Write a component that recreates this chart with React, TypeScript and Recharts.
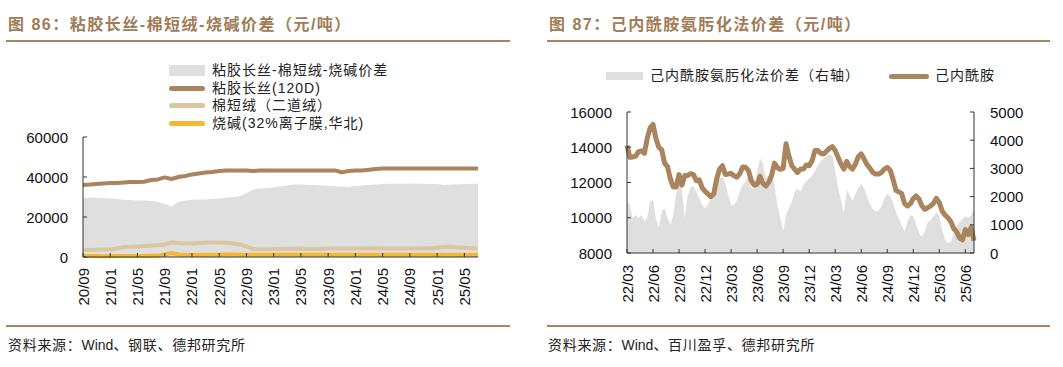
import React from "react";
import { ComposedChart, Line, Area, XAxis, YAxis, Legend } from "recharts";

const LATIN = '"Liberation Sans", Arial, sans-serif';
const MIXED = '"Liberation Sans", "Noto Sans CJK SC", sans-serif';

const TITLE = "#A07C58";
const RULE = "#A98566";
const BROWN = "#A9845C";
const BEIGE = "#D9C7A1";
const ORANGE = "#F5B731";
const GRAY = "#DFDFDF";
const AXIS = "#333333";

// month keys like "20/09" (or "22/03#1" when several points per month)
function monthKeys(y0: number, m0: number, count: number, perMonth: number): string[] {
  const out: string[] = [];
  for (let i = 0; i < count; i++) {
    const mi = m0 - 1 + Math.floor(i / perMonth);
    const yy = String((y0 + Math.floor(mi / 12)) % 100).padStart(2, "0");
    const mm = String((mi % 12) + 1).padStart(2, "0");
    out.push(perMonth > 1 ? `${yy}/${mm}#${i % perMonth}` : `${yy}/${mm}`);
  }
  return out;
}

// ---- left chart: monthly, 20/09 .. 25/07 ----
const leftMonths = monthKeys(2020, 9, 59, 1);
const leftTicks = [0, 20000, 40000, 60000];
const leftNames = ["粘胶长丝-棉短绒-烧碱价差", "粘胶长丝(120D)", "棉短绒（二道绒）", "烧碱(32%离子膜,华北)"];

const viscose = [
  36000, 36200, 36500, 36800, 37000, 37000, 37300, 37500, 37500, 37600,
  38500, 38800, 39800, 39000, 40000, 40500, 41300, 41800, 42300, 42500,
  43000, 43200, 43200, 43200, 43200, 43000, 43200, 43200, 43300, 43300,
  43300, 43300, 43300, 43300, 43300, 43300, 43300, 43300, 42300, 43000,
  43200, 43300, 43600, 44000, 44300, 44300, 44300, 44300, 44300, 44300,
  44300, 44300, 44300, 44300, 44300, 44300, 44300, 44300, 44300,
];
const linter = [
  3500, 3500, 3600, 3700, 3700, 4200, 5000, 5100, 5300, 5500,
  5700, 5900, 6300, 7400, 7000, 6700, 6700, 7000, 7200, 7300,
  7200, 7100, 6700, 6300, 5200, 4000, 3900, 3900, 4000, 4000,
  4100, 4100, 4200, 4000, 4000, 4100, 4200, 4200, 4300, 4300,
  4300, 4300, 4400, 4400, 4300, 4300, 4300, 4200, 4200, 4300,
  4400, 4400, 4600, 5000, 5100, 4800, 4600, 4400, 4200,
];
const caustic = [
  500, 500, 450, 400, 350, 450, 500, 500, 500, 550,
  600, 700, 1300, 2000, 1300, 1100, 1000, 1000, 1100, 1100,
  1150, 1200, 1200, 1150, 1100, 1100, 1100, 1100, 1100, 1100,
  1100, 1100, 1100, 1100, 1100, 1100, 1100, 1100, 1100, 1100,
  1100, 1100, 1100, 1100, 1100, 1100, 1100, 1100, 1100, 1100,
  1100, 1100, 1100, 1100, 1100, 1100, 1100, 1100, 1100,
];
const leftSpread = [
  29500, 29700, 29600, 29500, 29300, 29000, 28600, 28500, 28300, 28200,
  28000, 27600, 26500, 25200, 27500, 28300, 28600, 28700, 28800, 29000,
  29200, 29600, 30000, 30400, 32000, 33800, 34200, 34500, 34800, 35200,
  35800, 36200, 36200, 36000, 36000, 35800, 35600, 35300, 35200, 35000,
  35400, 35700, 36000, 36300, 36500, 36600, 36600, 36600, 36700, 36600,
  36600, 36500, 36500, 36000, 36200, 36400, 36500, 36600, 36600,
];

// ---- right chart: three points a month, 22/03 .. 25/07 ----
const rightDates = monthKeys(2022, 3, 121, 3);
const priceTicks = [8000, 10000, 12000, 14000, 16000];
const spreadTicks = [0, 1000, 2000, 3000, 4000, 5000];
const rightNames = ["己内酰胺氨肟化法价差（右轴）", "己内酰胺"];

const caprolactam = [
  14100, 13430, 13450, 13500, 13750, 13800, 13650, 14500, 15100, 15300,
  14500, 14000, 13850, 13100, 12900, 12200, 11750, 11750, 12450, 11850,
  12400, 12400, 12500, 12450, 12100, 12150, 11700, 11500, 11350, 11200,
  11350, 12200, 12750, 12950, 12450, 12480, 12520, 12380, 12300, 12500,
  12880, 12860, 12680, 12100, 11850, 11900, 12350, 11950, 11800, 12000,
  12400, 13100, 12850, 12750, 12800, 14200, 13500, 12950, 12750, 12570,
  12760, 12760, 12990, 12950, 13240, 13810, 13810, 13660, 13620, 13770,
  13940, 14040, 13810, 13430, 13050, 12760, 13200, 12900, 12760, 13050,
  13470, 13620, 13330, 13010, 12820, 12570, 12480, 12480, 12570, 12760,
  12860, 12710, 12190, 11560, 11470, 11370, 10800, 10670, 10800, 11090,
  11240, 11050, 10670, 10480, 10570, 10670, 10820, 11100, 10860, 10380,
  10150, 10000, 9770, 9390, 9200, 8860, 8750, 9330, 9050, 9450,
  8700,
];
const oximeSpread = [
  1820, 1700, 1230, 1350, 1230, 1350, 1120, 1230, 1820, 1880,
  1230, 880, 1470, 1590, 1230, 1000, 1350, 2120, 2470, 2230,
  1230, 2060, 2350, 2350, 2175, 1940, 1700, 1590, 1700, 1940,
  2120, 2470, 2650, 2700, 2470, 2060, 1700, 1700, 1880, 2175,
  2410, 2530, 2760, 2290, 2290, 2880, 3350, 3175, 2650, 2760,
  2880, 2410, 1700, 1230, 760, 1350, 1590, 1820, 2175, 2290,
  2175, 2410, 2550, 2650, 2750, 2900, 3100, 3250, 3350, 3420,
  3500, 3450, 2950, 2300, 1900, 1400, 2250, 2050, 1850, 2100,
  2300, 2450, 2300, 2000, 1750, 1550, 1470, 1500, 1650, 1940,
  2100, 2000, 1800, 1450, 1200, 1000, 760, 1100, 1350, 1300,
  1000, 700, 580, 800, 1100, 1150, 1300, 1450, 1300, 800,
  480, 350, 400, 700, 950, 1100, 1200, 1300, 1250, 1350,
  1550,
];

const leftData = leftMonths.map((m, i) => ({
  m,
  viscose: viscose[i],
  linter: linter[i],
  caustic: caustic[i],
  spread: leftSpread[i],
}));

const rightData = rightDates.map((d, i) => ({
  d,
  price: caprolactam[i],
  spread: oximeSpread[i],
}));

function BottomTick(props: any) {
  const { x, y, payload, gap } = props;
  const label = String(payload.value).slice(0, 5);
  const ty = y + gap;
  return (
    <g>
      <line x1={x} y1={y} x2={x} y2={y - 4} stroke={AXIS} />
      <text
        x={x}
        y={ty}
        transform={`rotate(-90 ${x} ${ty})`}
        textAnchor="end"
        dominantBaseline="central"
        fontSize={15}
        fontFamily={LATIN}
        fill="#111"
      >
        {label}
      </text>
    </g>
  );
}

function SideTick(props: any) {
  const { x, y, payload, side } = props;
  const left = side === "left";
  return (
    <g>
      <line x1={x} y1={y} x2={left ? x + 4 : x - 4} y2={y} stroke={AXIS} />
      <text
        x={left ? x - 15 : x + 16}
        y={y}
        textAnchor={left ? "end" : "start"}
        dominantBaseline="central"
        fontSize={15}
        fontFamily={LATIN}
        fill="#111"
      >
        {payload.value}
      </text>
    </g>
  );
}

const legendText: React.CSSProperties = {
  fontFamily: MIXED,
  fontSize: 14,
  letterSpacing: 1,
  color: "#222",
  whiteSpace: "nowrap",
  lineHeight: "17px",
};

function LeftLegend() {
  const swatches = [
    { background: GRAY, height: 11, borderRadius: 0 },
    { background: BROWN, height: 5, borderRadius: 3 },
    { background: BEIGE, height: 5, borderRadius: 3 },
    { background: ORANGE, height: 5, borderRadius: 3 },
  ];
  return (
    <div>
      {leftNames.map((name, i) => (
        <div key={name} style={{ display: "flex", alignItems: "center", height: 17.6 }}>
          <span style={{ display: "inline-block", width: 36, marginRight: 7, ...swatches[i] }} />
          <span style={legendText}>{name}</span>
        </div>
      ))}
    </div>
  );
}

function RightLegend() {
  return (
    <div style={{ position: "relative", height: 18 }}>
      <span style={{ position: "absolute", left: 0, top: 5, width: 37, height: 8, background: GRAY }} />
      <span style={{ ...legendText, position: "absolute", left: 44, top: 0 }}>{rightNames[0]}</span>
      <span style={{ position: "absolute", left: 283, top: 7, width: 40, height: 5, borderRadius: 3, background: BROWN }} />
      <span style={{ ...legendText, position: "absolute", left: 329, top: 0 }}>{rightNames[1]}</span>
    </div>
  );
}

const titleStyle: React.CSSProperties = {
  position: "absolute",
  top: 14,
  fontFamily: MIXED,
  fontWeight: 700,
  fontSize: 16,
  letterSpacing: 1.5,
  color: TITLE,
  whiteSpace: "nowrap",
  lineHeight: "22px",
};

const sourceStyle: React.CSSProperties = {
  position: "absolute",
  top: 336,
  fontFamily: MIXED,
  fontSize: 14,
  letterSpacing: 0.7,
  color: "#222",
  whiteSpace: "nowrap",
  lineHeight: "18px",
};

const rule = (left: number, top: number, width: number): React.CSSProperties => ({
  position: "absolute",
  left,
  top,
  width,
  height: 2,
  background: RULE,
});

function Source({ left, rest }: { left: number; rest: string }) {
  return (
    <div style={{ ...sourceStyle, left }}>
      资料来源：<span style={{ letterSpacing: 0 }}>Wind</span>
      {rest}
    </div>
  );
}

export default function App() {
  return (
    <div style={{ position: "absolute", left: 0, top: 0, width: 1063, height: 367, background: "#fff", overflow: "hidden" }}>
      <div style={{ ...titleStyle, left: 8 }}>图 86：粘胶长丝-棉短绒-烧碱价差（元/吨）</div>
      <div style={{ ...titleStyle, left: 549 }}>图 87：己内酰胺氨肟化法价差（元/吨）</div>
      <div style={rule(6, 40, 504)} />
      <div style={rule(547, 40, 503)} />

      <div style={{ position: "absolute", left: 0, top: 0 }}>
        <ComposedChart width={530} height={330} data={leftData} margin={{ top: 137, right: 52, bottom: 23, left: 23 }}>
          <XAxis
            dataKey="m"
            scale="point"
            interval={3}
            height={50}
            tickSize={0}
            tickMargin={0}
            tickLine={false}
            axisLine={{ stroke: AXIS }}
            tick={(p: any) => <BottomTick {...p} gap={11} />}
          />
          <YAxis
            domain={[0, 60000]}
            ticks={leftTicks}
            width={60}
            tickSize={0}
            tickMargin={0}
            tickLine={false}
            axisLine={{ stroke: AXIS }}
            tick={(p: any) => <SideTick {...p} side="left" />}
          />
          <Area dataKey="spread" type="linear" fill={GRAY} fillOpacity={1} stroke="none" isAnimationActive={false} />
          <Line dataKey="viscose" type="linear" stroke={BROWN} strokeWidth={4} dot={false} strokeLinejoin="round" isAnimationActive={false} />
          <Line dataKey="linter" type="linear" stroke={BEIGE} strokeWidth={4} dot={false} strokeLinejoin="round" isAnimationActive={false} />
          <Line dataKey="caustic" type="linear" stroke={ORANGE} strokeWidth={4} dot={false} strokeLinejoin="round" isAnimationActive={false} />
          <Legend
            layout="vertical"
            verticalAlign="middle"
            align="center"
            wrapperStyle={{ left: 169, top: 62, right: "auto", bottom: "auto", width: 280, height: 72 }}
            content={() => <LeftLegend />}
          />
        </ComposedChart>
      </div>

      <div style={{ position: "absolute", left: 530, top: 0 }}>
        <ComposedChart width={533} height={330} data={rightData} margin={{ top: 112, right: 29, bottom: 27, left: 37 }}>
          <XAxis
            dataKey="d"
            scale="point"
            interval={8}
            height={50}
            tickSize={0}
            tickMargin={0}
            tickLine={false}
            axisLine={{ stroke: AXIS }}
            tick={(p: any) => <BottomTick {...p} gap={12} />}
          />
          <YAxis
            yAxisId="left"
            domain={[8000, 16000]}
            ticks={priceTicks}
            width={60}
            tickSize={0}
            tickMargin={0}
            tickLine={false}
            axisLine={{ stroke: AXIS }}
            tick={(p: any) => <SideTick {...p} side="left" />}
          />
          <YAxis
            yAxisId="right"
            orientation="right"
            domain={[0, 5000]}
            ticks={spreadTicks}
            width={60}
            tickSize={0}
            tickMargin={0}
            tickLine={false}
            axisLine={{ stroke: AXIS }}
            tick={(p: any) => <SideTick {...p} side="right" />}
          />
          <Area yAxisId="right" dataKey="spread" type="linear" fill={GRAY} fillOpacity={1} stroke="none" isAnimationActive={false} />
          <Line yAxisId="left" dataKey="price" type="linear" stroke={BROWN} strokeWidth={5} dot={false} strokeLinejoin="round" isAnimationActive={false} />
          <Legend
            layout="vertical"
            verticalAlign="middle"
            align="center"
            wrapperStyle={{ left: 76, top: 67, right: "auto", bottom: "auto", width: 420, height: 18 }}
            content={() => <RightLegend />}
          />
        </ComposedChart>
      </div>

      <div style={rule(6, 325, 504)} />
      <div style={rule(547, 325, 503)} />
      <Source left={8} rest="、钢联、德邦研究所" />
      <Source left={548} rest="、百川盈孚、德邦研究所" />
    </div>
  );
}
